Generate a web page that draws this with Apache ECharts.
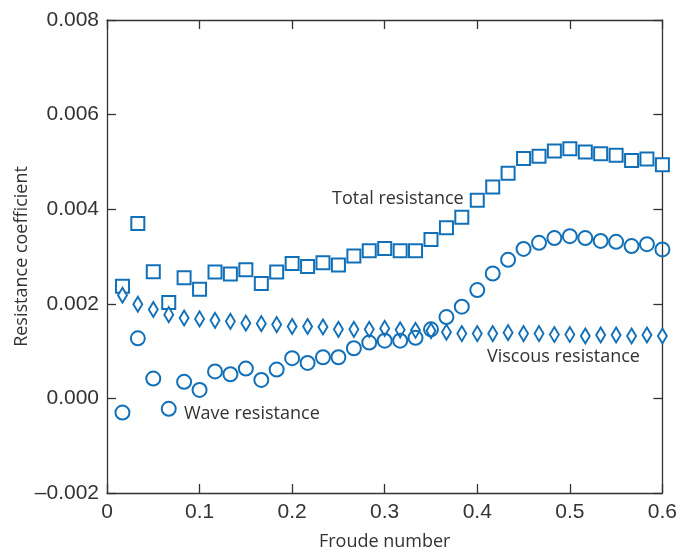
<!DOCTYPE html>
<html>
<head>
<meta charset="utf-8">
<script src="https://cdn.jsdelivr.net/npm/echarts@6/dist/echarts.min.js"></script>
<style>html,body{margin:0;padding:0;background:#fff;}#c{width:680px;height:556px;}</style>
</head>
<body>
<div id="c"></div>
<script>
// Froude numbers (k/60, k = 1..36)
const froude = [0.0167,0.0333,0.05,0.0667,0.0833,0.1,0.1167,0.1333,0.15,0.1667,0.1833,0.2,
  0.2167,0.2333,0.25,0.2667,0.2833,0.3,0.3167,0.3333,0.35,0.3667,0.3833,0.4,
  0.4167,0.4333,0.45,0.4667,0.4833,0.5,0.5167,0.5333,0.55,0.5667,0.5833,0.6];
const totalRes = [0.00237,0.00370,0.00268,0.00203,0.00255,0.00231,0.00267,0.00263,0.00272,0.00243,0.00267,0.00285,
  0.00279,0.00287,0.00282,0.00301,0.00312,0.00317,0.00312,0.00312,0.00336,0.00361,0.00383,0.00419,
  0.00447,0.00476,0.00507,0.00512,0.00523,0.00528,0.00521,0.00517,0.00514,0.00503,0.00506,0.00494];
const viscousRes = [0.00218,0.00199,0.00188,0.00177,0.00170,0.00168,0.00165,0.00163,0.00159,0.00158,0.00156,0.00152,
  0.00152,0.00151,0.00146,0.00146,0.00146,0.00148,0.00145,0.00144,0.00143,0.00140,0.00137,0.00137,
  0.00137,0.00139,0.00137,0.00137,0.00135,0.00135,0.00132,0.00134,0.00134,0.00132,0.00134,0.00132];
const waveRes = [-0.00030,0.00127,0.00042,-0.00022,0.00035,0.00018,0.00057,0.00051,0.00063,0.00039,0.00061,0.00085,
  0.00075,0.00087,0.00087,0.00106,0.00118,0.00122,0.00122,0.00128,0.00146,0.00172,0.00194,0.00229,
  0.00264,0.00293,0.00316,0.00329,0.00339,0.00343,0.00339,0.00333,0.00331,0.00322,0.00326,0.00315];
const seriesNames = ['Total resistance','Viscous resistance','Wave resistance'];
const xTicks = ['0','0.1','0.2','0.3','0.4','0.5','0.6'];
const yTicks = ['–0.002','0.000','0.002','0.004','0.006','0.008'];

const blue = '#1170b8';
const ink = '#333333';
const labelFont = 'Open Sans';
const zip = (xs, ys) => xs.map((x, i) => [x, ys[i]]);
const xLabel = v => xTicks[Math.round(v / 0.1)] ?? '';
const yLabel = v => yTicks[Math.round((v + 0.002) / 0.002)] ?? '';

const axisLine = {show: true, onZero: false, lineStyle: {color: ink, width: 1.3}};
const axisTick = {show: true, inside: true, length: 9, lineStyle: {color: ink, width: 1.3}};

const chart = echarts.init(document.getElementById('c'), null, {renderer: 'canvas'});
chart.setOption({
  animation: false,
  backgroundColor: '#fff',
  grid: {left: 107, right: 15, top: 20, bottom: 56, containLabel: false},
  xAxis: [{
    type: 'value', min: 0, max: 0.6, interval: 0.1, position: 'bottom',
    name: 'Froude number', nameLocation: 'middle', nameGap: 40, nameMoveOverlap: false,
    nameTextStyle: {fontFamily: labelFont, fontSize: 18, color: ink},
    axisLine, axisTick, splitLine: {show: false},
    axisLabel: {formatter: xLabel, fontFamily: 'Liberation Sans', fontSize: 21, color: ink, margin: 9}
  }, {
    type: 'value', min: 0, max: 0.6, interval: 0.1, position: 'top',
    axisLine, axisTick, splitLine: {show: false}, axisLabel: {show: false}
  }],
  yAxis: [{
    type: 'value', min: -0.002, max: 0.008, interval: 0.002, position: 'left',
    name: 'Resistance coefficient', nameLocation: 'middle', nameGap: 76, nameRotate: 90,
    nameMoveOverlap: false,
    nameTextStyle: {fontFamily: labelFont, fontSize: 18, color: ink},
    axisLine, axisTick, splitLine: {show: false},
    axisLabel: {formatter: yLabel, fontFamily: 'Liberation Sans', fontSize: 21, color: ink, margin: 8}
  }, {
    type: 'value', min: -0.002, max: 0.008, interval: 0.002, position: 'right',
    axisLine, axisTick, splitLine: {show: false}, axisLabel: {show: false}
  }],
  series: [{
    name: seriesNames[0], type: 'scatter', data: zip(froude, totalRes),
    symbol: 'rect', symbolSize: 13,
    itemStyle: {color: '#fff', borderColor: blue, borderWidth: 2, opacity: 1}
  }, {
    name: seriesNames[1], type: 'scatter', data: zip(froude, viscousRes),
    symbol: 'diamond', symbolSize: [9, 15],
    itemStyle: {color: '#fff', borderColor: blue, borderWidth: 2, opacity: 1}
  }, {
    name: seriesNames[2], type: 'scatter', data: zip(froude, waveRes),
    symbol: 'circle', symbolSize: 14,
    itemStyle: {color: 'rgba(255,255,255,0)', borderColor: blue, borderWidth: 2, opacity: 1}
  }],
  graphic: [
    {type: 'text', left: 332, top: 190, style: {text: seriesNames[0], fontFamily: labelFont, fontSize: 18, fill: ink}},
    {type: 'text', left: 487, top: 348, style: {text: seriesNames[1], fontFamily: labelFont, fontSize: 18, fill: ink}},
    {type: 'text', left: 184, top: 405, style: {text: seriesNames[2], fontFamily: labelFont, fontSize: 18, fill: ink}}
  ]
});
</script>
</body>
</html>
